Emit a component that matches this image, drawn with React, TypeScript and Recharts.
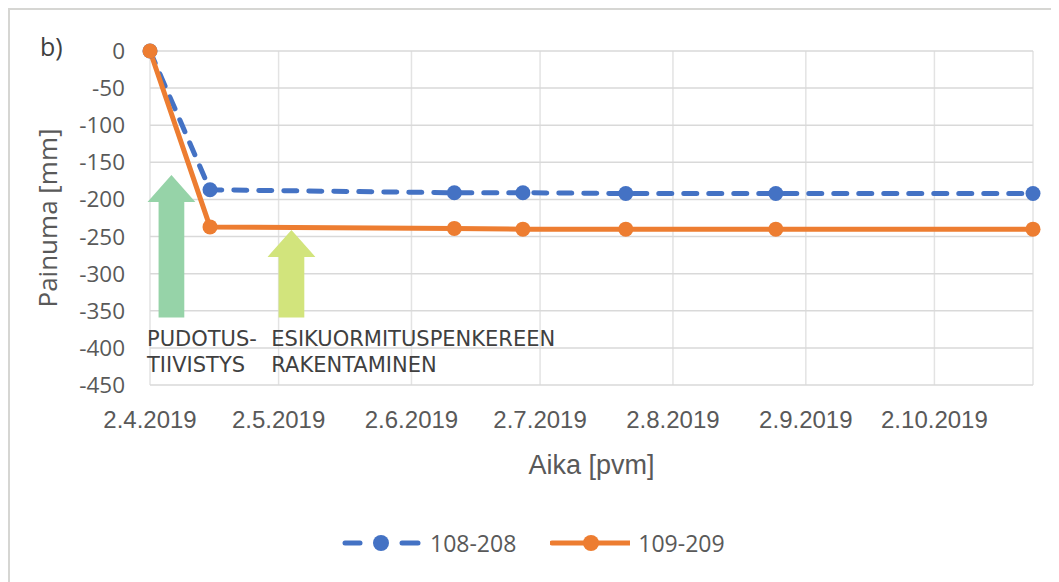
import React from 'react';
import { LineChart, Line, XAxis, YAxis, CartesianGrid, Legend, ReferenceArea, ReferenceDot } from 'recharts';

const day = (d: number, m: number) => Date.UTC(2019, m - 1, d);

// mittauspäivät ja painumat [mm]
const measureDates = [day(2, 4), day(16, 4), day(12, 6), day(28, 6), day(22, 7), day(26, 8), day(25, 10)];
const series108 = [0, -187, -191, -191, -192, -192, -192];
const series109 = [0, -237, -239, -240, -240, -240, -240];

const monthTicks = [day(2, 4), day(2, 5), day(2, 6), day(2, 7), day(2, 8), day(2, 9), day(2, 10)];
const yTicks = [0, -50, -100, -150, -200, -250, -300, -350, -400, -450];

// nuolet: leveys päivinä, kärki ja pohja mm
const arrowFrom = [day(4, 4), day(2, 5)];
const arrowTo = [day(10, 4), day(8, 5)];
const arrowTip = [-167, -241];
const arrowBase = [-359, -359];
const arrowColors = ['#96D3A8', '#D2E47C'];

const noteDates = [day(2, 4), day(1, 5)];
const noteValue = -388;
const noteLines = [
    ['PUDOTUS-', 'TIIVISTYS'],
    ['ESIKUORMITUSPENKEREEN', 'RAKENTAMINEN'],
];

const BLUE = '#4472C4';
const ORANGE = '#ED7D31';
const AXIS_TEXT = '#595959';

const data = measureDates.map((date, i) => ({
    date,
    s108: series108[i],
    s109: series109[i],
}));

const formatDate = (t: number) => {
    const d = new Date(t);
    return `${d.getUTCDate()}.${d.getUTCMonth() + 1}.${d.getUTCFullYear()}`;
};

const arrowShape = (color: string) => (props: any) => {
    const { x, y, width, height } = props;
    const cx = x + width / 2;
    const headHalf = width * 0.93;
    const headH = 27;
    const pts = [
        [cx, y],
        [cx + headHalf, y + headH],
        [x + width, y + headH],
        [x + width, y + height],
        [x, y + height],
        [x, y + headH],
        [cx - headHalf, y + headH],
    ].map(p => p.join(',')).join(' ');
    return <polygon points={pts} fill={color} />;
};

const noteShape = (lines: string[]) => (props: any) => {
    const { cx, cy } = props;
    return (
        <text x={cx - 3} y={cy} fill="#404040" fontSize={21} fontFamily='"DejaVu Sans", sans-serif' dominantBaseline="central">
            {lines.map((l, i) => (
                <tspan key={l} x={cx - 3} dy={i === 0 ? 0 : 26}>{l}</tspan>
            ))}
        </text>
    );
};

const LegendContent = ({ payload }: any) => (
    <div style={{
        display: 'flex',
        alignItems: 'center',
        height: 30,
        paddingLeft: 332,
        fontFamily: '"Open Sans", sans-serif',
        fontSize: 23,
        color: AXIS_TEXT,
    }}>
        {(payload || []).map((entry: any, i: number) => {
            const dashed = entry.value === '108-208';
            return (
                <div key={entry.value} style={{ display: 'flex', alignItems: 'center', marginLeft: i ? 34 : 0 }}>
                    <svg width={80} height={20}>
                        {dashed ? (
                            <>
                                <line x1={3} y1={10} x2={18} y2={10} stroke={entry.color} strokeWidth={5} strokeLinecap="round" />
                                <line x1={60} y1={10} x2={76} y2={10} stroke={entry.color} strokeWidth={5} strokeLinecap="round" />
                            </>
                        ) : (
                            <line x1={2} y1={10} x2={80} y2={10} stroke={entry.color} strokeWidth={5} strokeLinecap="round" />
                        )}
                        <circle cx={dashed ? 39 : 41} cy={10} r={8} fill={entry.color} />
                    </svg>
                    <span style={{ marginLeft: 8 }}>{entry.value}</span>
                </div>
            );
        })}
    </div>
);

export default function App() {
    return (
        <div style={{
            position: 'relative',
            width: 1049,
            height: 572,
            borderLeft: '2px solid #d6d6d3',
            borderTop: '2px solid #d6d6d3',
            background: 'white',
        }}>
            <div style={{
                position: 'absolute', left: 30, top: 24, fontSize: 25, lineHeight: 1,
                fontFamily: '"Open Sans", sans-serif', color: '#404040', zIndex: 1,
            }}>b)</div>
            <LineChart width={1049} height={572} data={data} margin={{ top: 41, right: 26, left: 0, bottom: 24 }}>
                <CartesianGrid horizontal={false} stroke="#e3e3e3" strokeWidth={1.5} />
                <CartesianGrid vertical={false} stroke="#d9d9d9" strokeWidth={1.5} />
                <XAxis
                    dataKey="date"
                    type="number"
                    scale="linear"
                    domain={['dataMin', 'dataMax']}
                    ticks={monthTicks}
                    interval={0}
                    tickFormatter={formatDate}
                    height={143}
                    tickSize={0}
                    tickMargin={26}
                    axisLine={false}
                    tickLine={false}
                    tick={{ fontSize: 24, fill: AXIS_TEXT, fontFamily: '"Liberation Sans", sans-serif' }}
                    label={(p: any) => {
                        const vb = p.viewBox;
                        return (
                            <text x={vb.x + vb.width / 2} y={vb.y + 80} textAnchor="middle" dominantBaseline="central"
                                fontSize={27} fill={AXIS_TEXT} fontFamily='"Liberation Sans", sans-serif'>Aika [pvm]</text>
                        );
                    }}
                />
                <YAxis
                    type="number"
                    domain={[-450, 0]}
                    ticks={yTicks}
                    interval={0}
                    width={140}
                    tickSize={0}
                    tickMargin={25}
                    axisLine={false}
                    tickLine={false}
                    tick={{ fontSize: 22.5, fill: AXIS_TEXT, fontFamily: '"Open Sans", sans-serif' }}
                    label={(p: any) => {
                        const vb = p.viewBox;
                        const x = vb.x + 37;
                        const y = vb.y + vb.height / 2;
                        return (
                            <text x={x} y={y} transform={`rotate(-90 ${x} ${y})`} textAnchor="middle" dominantBaseline="central"
                                fontSize={26} fill={AXIS_TEXT} fontFamily='"Open Sans", sans-serif'>Painuma [mm]</text>
                        );
                    }}
                />
                {arrowFrom.map((from, i) => (
                    <ReferenceArea
                        key={`arrow-${i}`}
                        x1={from}
                        x2={arrowTo[i]}
                        y1={arrowBase[i]}
                        y2={arrowTip[i]}
                        ifOverflow="visible"
                        shape={arrowShape(arrowColors[i])}
                    />
                ))}
                {noteDates.map((date, i) => (
                    <ReferenceDot
                        key={`note-${i}`}
                        x={date}
                        y={noteValue}
                        r={0}
                        ifOverflow="visible"
                        shape={noteShape(noteLines[i])}
                    />
                ))}
                <Line
                    type="linear"
                    dataKey="s108"
                    name="108-208"
                    stroke={BLUE}
                    strokeWidth={5}
                    strokeDasharray="13 12"
                    strokeLinecap="round"
                    dot={{ r: 7.5, fill: BLUE, stroke: 'none', strokeWidth: 0 }}
                    isAnimationActive={false}
                />
                <Line
                    type="linear"
                    dataKey="s109"
                    name="109-209"
                    stroke={ORANGE}
                    strokeWidth={5}
                    strokeLinejoin="round"
                    dot={{ r: 7.5, fill: ORANGE, stroke: 'none', strokeWidth: 0 }}
                    isAnimationActive={false}
                />
                <Legend verticalAlign="bottom" content={LegendContent} wrapperStyle={{ left: 0, width: 1049 }} />
            </LineChart>
        </div>
    );
}
